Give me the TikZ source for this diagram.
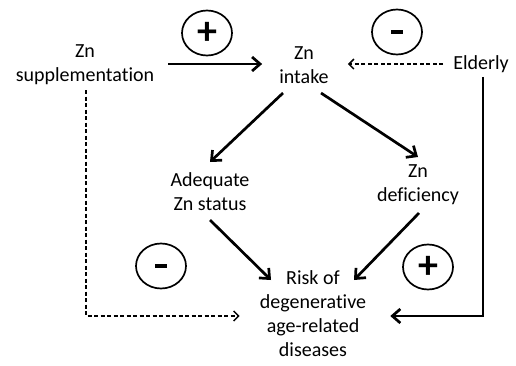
\documentclass[tikz,border=0pt]{standalone}
\usepackage{fontspec}
\setmainfont{Carlito}[Ligatures={NoCommon}]
\usetikzlibrary{arrows.meta,shapes.geometric}
\tikzset{
  lbl/.style={align=center, inner sep=0pt, font=\fontsize{20}{24}\selectfont},
  sign/.style={ellipse, draw, line width=1.7pt, minimum width=50pt, minimum height=45pt, inner sep=0pt, font=\fontsize{40}{40}\selectfont\bfseries},
  solidarr/.style={line width=2.7pt, -{Straight Barb[length=8pt,width=14pt,line width=2.7pt]}},
  dasharr/.style={line width=1.5pt, dash pattern=on 4pt off 2.5pt, -{Straight Barb[length=5pt,width=10pt,line width=1.5pt]}}
}
\begin{document}
\begin{tikzpicture}[x=1pt,y=-1pt]
\useasboundingbox (0,0) rectangle (516,365);
\node[lbl] (sup) at (85,65) {Zn\\supplementation};
\node[lbl] (intake) at (304,65) {Zn\\intake};
\node[lbl] (eld) at (481,64) {Elderly};
\node[lbl] (adeq) at (210,192) {Adequate\\Zn status};
\node[lbl] (defic) at (418,185) {Zn\\deficiency};
\node[lbl] (risk) at (313,314) {Risk of\\degenerative\\age-related\\diseases};
\node[sign] (p1) at (207,33) {+};
\node[sign] (m1) at (397,32) {\rule{12pt}{4.5pt}};
\node[sign] (m2) at (161,266) {\rule{12pt}{4.5pt}};
\node[sign] (p2) at (428,267) {+};
\draw[solidarr] ([shift={(14,-1)}]sup.east) -- ([shift={(-17,-1)}]intake.west);
\draw[dasharr] ([shift={(-10,0)}]eld.west) -- ([shift={(19,-1)}]intake.east);
\draw[solidarr] ([shift={(2,4)}]eld.south) |- ([shift={(24,2)}]risk.east);
\draw[dasharr] ([shift={(1,5)}]sup.south) |- ([shift={(-20,2)}]risk.west);
\draw[solidarr] ([shift={(-21,28)}]intake.center) -- ([shift={(0,-30)}]adeq.center);
\draw[solidarr] ([shift={(17,28)}]intake.center) -- ([shift={(0,-28)}]defic.center);
\draw[solidarr] ([shift={(0,28)}]adeq.center) -- ([shift={(-42,-34)}]risk.center);
\draw[solidarr] ([shift={(1,28)}]defic.center) -- ([shift={(41,-34)}]risk.center);
\end{tikzpicture}
\end{document}
